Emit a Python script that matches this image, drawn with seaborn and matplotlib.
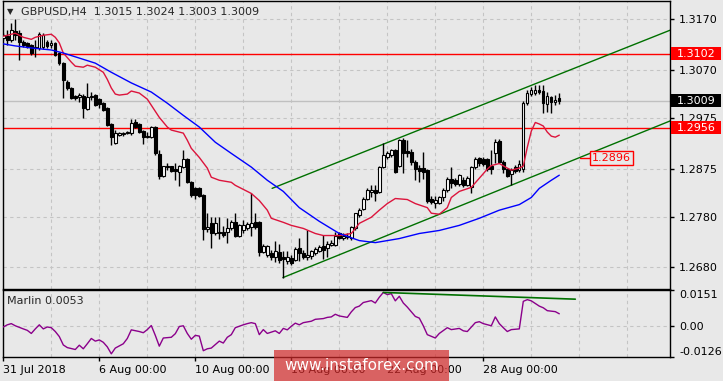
import matplotlib
matplotlib.use("Agg")
import matplotlib.pyplot as plt
import matplotlib.transforms as mtransforms
from matplotlib.patches import Rectangle
import seaborn as sns

# GBPUSD H4 candles
opens = [1.3132, 1.3136, 1.3129, 1.3146, 1.3142, 1.3125, 1.3123, 1.3119, 1.3113, 1.3113,
         1.3115, 1.3125, 1.3119, 1.3123, 1.3103, 1.3083, 1.3046, 1.3034, 1.3018, 1.3016,
         1.3018, 1.2992, 1.3016, 1.3020, 1.3012, 1.3004, 1.2994, 1.2963, 1.2925, 1.2941,
         1.2943, 1.2945, 1.2945, 1.2966, 1.2963, 1.2949, 1.2937, 1.2937, 1.2957, 1.2903,
         1.2860, 1.2878, 1.2880, 1.2874, 1.2868, 1.2878, 1.2893, 1.2848, 1.2836, 1.2836,
         1.2822, 1.2755, 1.2767, 1.2747, 1.2749, 1.2749, 1.2749, 1.2757, 1.2769, 1.2743,
         1.2753, 1.2757, 1.2759, 1.2769, 1.2769, 1.2710, 1.2704, 1.2708, 1.2700, 1.2710,
         1.2700, 1.2692, 1.2698, 1.2694, 1.2719, 1.2708, 1.2700, 1.2702, 1.2708, 1.2712,
         1.2723, 1.2719, 1.2725, 1.2725, 1.2747, 1.2739, 1.2741, 1.2739, 1.2757, 1.2783,
         1.2796, 1.2816, 1.2828, 1.2832, 1.2828, 1.2878, 1.2897, 1.2901, 1.2911, 1.2881,
         1.2931, 1.2909, 1.2907, 1.2889, 1.2876, 1.2876, 1.2872, 1.2816, 1.2808, 1.2808,
         1.2818, 1.2832, 1.2854, 1.2852, 1.2844, 1.2852, 1.2842, 1.2838, 1.2878, 1.2895,
         1.2893, 1.2893, 1.2881, 1.2905, 1.2929, 1.2889, 1.2874, 1.2864, 1.2878, 1.2872,
         1.2874, 1.3004, 1.3022, 1.3024, 1.3030, 1.3028, 1.3002, 1.3016, 1.3006, 1.3015]
highs = [1.3142, 1.3148, 1.3162, 1.3170, 1.3148, 1.3129, 1.3125, 1.3121, 1.3129, 1.3144,
         1.3142, 1.3129, 1.3129, 1.3125, 1.3105, 1.3085, 1.3049, 1.3036, 1.3020, 1.3024,
         1.3022, 1.3044, 1.3026, 1.3022, 1.3014, 1.3006, 1.2996, 1.2964, 1.2951, 1.2947,
         1.2947, 1.2949, 1.2972, 1.2972, 1.2964, 1.2951, 1.2947, 1.2959, 1.2959, 1.2911,
         1.2881, 1.2887, 1.2881, 1.2887, 1.2883, 1.2911, 1.2895, 1.2850, 1.2838, 1.2838,
         1.2824, 1.2787, 1.2779, 1.2779, 1.2779, 1.2761, 1.2777, 1.2773, 1.2788, 1.2765,
         1.2773, 1.2769, 1.2826, 1.2788, 1.2771, 1.2727, 1.2725, 1.2714, 1.2733, 1.2727,
         1.2712, 1.2712, 1.2704, 1.2721, 1.2739, 1.2714, 1.2753, 1.2714, 1.2721, 1.2725,
         1.2745, 1.2733, 1.2735, 1.2749, 1.2749, 1.2747, 1.2747, 1.2761, 1.2788, 1.2798,
         1.2818, 1.2836, 1.2842, 1.2842, 1.2880, 1.2925, 1.2909, 1.2913, 1.2913, 1.2933,
         1.2935, 1.2931, 1.2913, 1.2891, 1.2883, 1.2907, 1.2874, 1.2820, 1.2820, 1.2820,
         1.2836, 1.2858, 1.2878, 1.2856, 1.2864, 1.2858, 1.2860, 1.2880, 1.2897, 1.2897,
         1.2897, 1.2895, 1.2911, 1.2933, 1.2933, 1.2891, 1.2877, 1.2876, 1.2882, 1.2891,
         1.3008, 1.3030, 1.3036, 1.3040, 1.3040, 1.3040, 1.3026, 1.3018, 1.3020, 1.3024]
lows = [1.3129, 1.3119, 1.3125, 1.3129, 1.3089, 1.3115, 1.3113, 1.3099, 1.3095, 1.3109,
        1.3111, 1.3113, 1.3113, 1.3097, 1.3079, 1.3014, 1.3030, 1.3012, 1.3010, 1.3006,
        1.2974, 1.2990, 1.3010, 1.2998, 1.2994, 1.2988, 1.2959, 1.2921, 1.2923, 1.2939,
        1.2939, 1.2943, 1.2941, 1.2955, 1.2945, 1.2923, 1.2935, 1.2935, 1.2901, 1.2854,
        1.2858, 1.2872, 1.2868, 1.2852, 1.2840, 1.2876, 1.2846, 1.2818, 1.2816, 1.2818,
        1.2735, 1.2749, 1.2719, 1.2745, 1.2737, 1.2741, 1.2729, 1.2753, 1.2741, 1.2741,
        1.2747, 1.2753, 1.2743, 1.2755, 1.2702, 1.2708, 1.2700, 1.2694, 1.2690, 1.2688,
        1.2660, 1.2686, 1.2684, 1.2692, 1.2692, 1.2696, 1.2694, 1.2696, 1.2704, 1.2710,
        1.2696, 1.2700, 1.2723, 1.2723, 1.2737, 1.2735, 1.2737, 1.2735, 1.2753, 1.2779,
        1.2794, 1.2814, 1.2818, 1.2812, 1.2826, 1.2876, 1.2893, 1.2897, 1.2866, 1.2879,
        1.2866, 1.2897, 1.2883, 1.2852, 1.2848, 1.2854, 1.2808, 1.2806, 1.2798, 1.2806,
        1.2812, 1.2828, 1.2836, 1.2840, 1.2840, 1.2839, 1.2840, 1.2826, 1.2874, 1.2881,
        1.2881, 1.2870, 1.2864, 1.2886, 1.2887, 1.2866, 1.2858, 1.2842, 1.2866, 1.2868,
        1.2868, 1.3000, 1.3018, 1.3020, 1.3022, 1.2984, 1.2986, 1.2984, 1.3000, 1.3003]
closes = [1.3138, 1.3129, 1.3148, 1.3138, 1.3125, 1.3119, 1.3117, 1.3103, 1.3115, 1.3140,
          1.3138, 1.3117, 1.3123, 1.3099, 1.3083, 1.3049, 1.3034, 1.3014, 1.3014, 1.3020,
          1.2994, 1.3016, 1.3018, 1.3000, 1.3002, 1.2990, 1.2961, 1.2937, 1.2945, 1.2945,
          1.2945, 1.2947, 1.2964, 1.2957, 1.2947, 1.2937, 1.2939, 1.2957, 1.2905, 1.2860,
          1.2880, 1.2880, 1.2870, 1.2870, 1.2881, 1.2893, 1.2848, 1.2822, 1.2822, 1.2820,
          1.2755, 1.2759, 1.2747, 1.2767, 1.2747, 1.2745, 1.2757, 1.2769, 1.2743, 1.2763,
          1.2763, 1.2765, 1.2767, 1.2759, 1.2710, 1.2723, 1.2723, 1.2700, 1.2712, 1.2694,
          1.2696, 1.2700, 1.2688, 1.2717, 1.2708, 1.2700, 1.2704, 1.2712, 1.2717, 1.2721,
          1.2714, 1.2727, 1.2729, 1.2743, 1.2739, 1.2743, 1.2743, 1.2759, 1.2787, 1.2794,
          1.2816, 1.2832, 1.2832, 1.2826, 1.2878, 1.2901, 1.2905, 1.2911, 1.2868, 1.2931,
          1.2905, 1.2905, 1.2889, 1.2874, 1.2870, 1.2868, 1.2812, 1.2810, 1.2814, 1.2818,
          1.2832, 1.2854, 1.2846, 1.2844, 1.2862, 1.2842, 1.2856, 1.2878, 1.2893, 1.2887,
          1.2885, 1.2874, 1.2874, 1.2927, 1.2889, 1.2874, 1.2860, 1.2872, 1.2870, 1.2885,
          1.3004, 1.3024, 1.3030, 1.3030, 1.3026, 1.3004, 1.3018, 1.3006, 1.3010, 1.3009]

# moving averages (red = fast, blue = slow)
red_bar = [0, 2, 3, 5, 7, 8, 10, 12, 13, 14, 15, 17, 18, 20, 21, 23, 25, 26, 27, 28,
           29, 31, 32, 34, 36, 37, 39, 41, 42, 45, 46, 47, 49, 51, 52, 54, 57, 58, 61, 62,
           64, 66, 67, 70, 72, 75, 78, 80, 84, 87, 89, 92, 94, 96, 98, 101, 103, 106, 107, 109,
           111, 112, 114, 117, 119, 121, 122, 124, 126, 127, 129, 130, 131, 132, 133, 134, 135, 136, 137, 138, 139]
red_val = [1.3136, 1.3140, 1.3142, 1.3134, 1.3130, 1.3134, 1.3138, 1.3140, 1.3134, 1.3123,
           1.3103, 1.3085, 1.3077, 1.3075, 1.3079, 1.3075, 1.3065, 1.3051, 1.3034, 1.3022,
           1.3020, 1.3022, 1.3028, 1.3024, 1.3012, 1.3000, 1.2976, 1.2957, 1.2951, 1.2945,
           1.2931, 1.2915, 1.2897, 1.2876, 1.2858, 1.2852, 1.2848, 1.2842, 1.2830, 1.2826,
           1.2812, 1.2793, 1.2777, 1.2769, 1.2763, 1.2757, 1.2747, 1.2743, 1.2743, 1.2747,
           1.2767, 1.2779, 1.2793, 1.2806, 1.2816, 1.2814, 1.2806, 1.2798, 1.2787, 1.2785,
           1.2798, 1.2818, 1.2830, 1.2838, 1.2856, 1.2874, 1.2881, 1.2885, 1.2876, 1.2872,
           1.2876, 1.2880, 1.2917, 1.2949, 1.2966, 1.2963, 1.2959, 1.2947, 1.2939, 1.2937, 1.2941]
blue_bar = [0, 3, 7, 12, 15, 19, 23, 27, 32, 37, 41, 45, 49, 53, 57, 62, 66, 70, 74, 79,
            84, 89, 93, 99, 104, 109, 114, 119, 124, 129, 132, 134, 137, 139]
blue_val = [1.3121, 1.3117, 1.3113, 1.3109, 1.3103, 1.3093, 1.3083, 1.3065, 1.3044, 1.3026,
            1.3004, 1.2980, 1.2957, 1.2927, 1.2905, 1.2878, 1.2852, 1.2830, 1.2798, 1.2771,
            1.2747, 1.2733, 1.2729, 1.2737, 1.2747, 1.2753, 1.2763, 1.2777, 1.2793, 1.2804,
            1.2818, 1.2836, 1.2852, 1.2862]

# channel (bar, price at both ends)
upper_bar = [67.2, 166.7]
upper_val = [1.2836, 1.3148]
lower_bar = [69.9, 166.7]
lower_val = [1.2660, 1.2969]

level_hi = 1.3102
level_lo = 1.2956
last_price = 1.3009
channel_tag = 1.2896

price_ticks = [1.3170, 1.3070, 1.2975, 1.2875, 1.2780, 1.2680]
date_bars = [0, 24, 48, 72, 96, 120]
date_labels = ['31 Jul 2018', '6 Aug 00:00', '10 Aug 00:00', '16 Aug 00:00',
               '22 Aug 00:00', '28 Aug 00:00']

# Marlin oscillator
marlin_bar = [0, 1, 2, 3, 5, 6, 7, 8, 9, 10, 11, 12, 13, 14, 15, 16, 18, 19, 20, 21,
              22, 23, 24, 25, 26, 27, 28, 30, 31, 32, 34, 35, 36, 37, 38, 39, 40, 42, 43, 44,
              45, 46, 47, 48, 49, 50, 51, 52, 54, 55, 56, 57, 58, 60, 61, 62, 63, 64, 65, 66,
              68, 69, 70, 71, 72, 73, 74, 75, 77, 78, 80, 81, 82, 83, 84, 86, 87, 88, 89, 90,
              92, 93, 94, 95, 96, 97, 98, 99, 100, 101, 103, 104, 105, 106, 108, 109, 111, 112, 114, 115,
              116, 118, 119, 120, 122, 123, 124, 125, 126, 127, 129, 130, 131, 132, 134, 135, 136, 138, 139]
marlin_val = [-0.0002, 0.0007, 0.0012, 0.0003, -0.0010, -0.0016, -0.0029, -0.0010, 0.0007, -0.0010,
              -0.0002, -0.0005, -0.0021, -0.0042, -0.0077, -0.0088, -0.0096, -0.0078, -0.0093, -0.0072,
              -0.0050, -0.0061, -0.0056, -0.0066, -0.0085, -0.0114, -0.0090, -0.0072, -0.0050, -0.0014,
              -0.0021, -0.0026, -0.0013, 0.0004, -0.0037, -0.0082, -0.0048, -0.0045, -0.0030, 0.0000,
              0.0003, -0.0029, -0.0053, -0.0037, -0.0040, -0.0101, -0.0093, -0.0090, -0.0061, -0.0069,
              -0.0045, -0.0034, -0.0005, 0.0007, 0.0012, 0.0016, 0.0012, -0.0034, -0.0013, -0.0029,
              -0.0018, -0.0029, -0.0008, -0.0014, 0.0001, 0.0014, 0.0007, 0.0016, 0.0022, 0.0030,
              0.0033, 0.0038, 0.0040, 0.0051, 0.0044, 0.0038, 0.0061, 0.0079, 0.0085, 0.0100,
              0.0108, 0.0098, 0.0122, 0.0142, 0.0133, 0.0137, 0.0107, 0.0126, 0.0098, 0.0081,
              0.0042, 0.0035, 0.0003, -0.0034, -0.0048, -0.0029, -0.0005, -0.0013, -0.0008, -0.0018,
              -0.0021, 0.0016, 0.0020, 0.0012, 0.0003, 0.0040, 0.0012, -0.0005, -0.0021, -0.0013,
              -0.0010, 0.0105, 0.0112, 0.0107, 0.0085, 0.0078, 0.0066, 0.0062, 0.0053]
marlin_div_bar = [95, 143]
marlin_div_val = [0.0142, 0.0114]
marlin_ticks = [-0.0126, 0.0, 0.0151]
marlin_labels = ['-0.0126', '0.00', '0.0151']

BG = '#e8e8e8'
GRID = '#c4c4c4'
W, H = 723, 381

sns.set_style("white")
plt.rcParams['font.family'] = ['DejaVu Sans']
plt.rcParams['font.size'] = 8


def fx(x):
    return x / W


def fy(y):
    return 1 - y / H


fig = plt.figure(figsize=(W / 100, H / 100), dpi=100)
fig.patch.set_facecolor(BG)

ax = fig.add_axes([fx(2.5), fy(288.5), fx(669.5) - fx(2.5), fy(1) - fy(288.5)])
axm = fig.add_axes([fx(2.5), fy(356.7), fx(669.5) - fx(2.5), fy(290.3) - fy(356.7)])

xlim = (-0.2, 166.55)
grid_bars = list(range(12, 166, 12))

# ---- price panel
ax.set_facecolor(BG)
for b in grid_bars:
    ax.axvline(b, color=GRID, lw=0.8, ls=(0, (3, 3)), zorder=0)
for p in price_ticks:
    ax.axhline(p, color=GRID, lw=0.8, ls=(0, (3, 3)), zorder=0)

ax.axhline(last_price, color='#c0c0c0', lw=1, zorder=1)
ax.axhline(level_hi, color='#ff0000', lw=1, zorder=1)
ax.axhline(level_lo, color='#ff0000', lw=1, zorder=1)

bars = list(range(len(opens)))
ax.vlines(bars, lows, highs, color='black', lw=1, zorder=3)
body_col = ['white' if c >= o else 'black' for o, c in zip(opens, closes)]
ax.bar(bars, [c - o for o, c in zip(opens, closes)], bottom=opens, width=0.6,
       color=body_col, edgecolor='black', linewidth=0.8, zorder=4)

sns.lineplot(x=red_bar, y=red_val, ax=ax, color='#dc143c', lw=1, legend=False, zorder=5)
sns.lineplot(x=blue_bar, y=blue_val, ax=ax, color='#0000ff', lw=1, legend=False, zorder=5)
sns.lineplot(x=upper_bar, y=upper_val, ax=ax, color='#007000', lw=1, legend=False, zorder=2)
sns.lineplot(x=lower_bar, y=lower_val, ax=ax, color='#007000', lw=1, legend=False, zorder=2)

# trend line price tag
ax.plot([144.2, 146.9], [channel_tag, channel_tag], color='#ff0000', lw=1, zorder=6)
ax.text(147.2, channel_tag, f'{channel_tag:.4f}', color='#ff0000', fontsize=8,
        ha='left', va='center', zorder=7,
        bbox=dict(boxstyle='square,pad=0.15', fc=BG, ec='#ff0000', lw=1))

ax.set_xlim(*xlim)
ax.set_ylim(1.26385, 1.32056)
ax.set_xticks([])
ax.yaxis.tick_right()
ax.set_yticks(price_ticks)
ax.set_yticklabels([f'{p:.4f}' for p in price_ticks])
ax.tick_params(axis='y', direction='out', length=3, width=1, pad=4, labelsize=8,
               colors='black', right=True)
ax.set_xlabel('')
ax.set_ylabel('')
for s in ax.spines.values():
    s.set_color('black')
    s.set_linewidth(1)

# highlighted price boxes on the right scale
tr = mtransforms.blended_transform_factory(ax.transAxes, ax.transData)
box_h = 13 * (1.32056 - 1.26385) / 287.5
for val, fc in [(level_hi, '#ff0000'), (last_price, 'black'), (level_lo, '#ff0000')]:
    ax.add_patch(Rectangle((1.0023, val - box_h / 2), 50 / 667, box_h, transform=tr,
                           facecolor=fc, edgecolor='none', clip_on=False, zorder=8))
    ax.text(1 + 7.5 / 667, val, f'{val:.4f}', transform=tr, color='white', fontsize=8,
            ha='left', va='center', clip_on=False, zorder=9)

# ---- Marlin panel
axm.set_facecolor(BG)
for b in grid_bars:
    axm.axvline(b, color=GRID, lw=0.8, ls=(0, (3, 3)), zorder=0)
axm.axhline(0, color=GRID, lw=0.8, ls=(0, (3, 3)), zorder=0)
sns.lineplot(x=marlin_bar, y=marlin_val, ax=axm, color='#8b008b', lw=1, legend=False, zorder=3)
sns.lineplot(x=marlin_div_bar, y=marlin_div_val, ax=axm, color='#007000', lw=1.2,
             legend=False, zorder=3)
axm.set_xlim(*xlim)
axm.set_ylim(-0.0126, 0.0151)
axm.yaxis.tick_right()
axm.set_yticks(marlin_ticks)
axm.set_yticklabels(marlin_labels)
labs = axm.get_yticklabels()
labs[0].set_va('bottom')
labs[2].set_va('top')
axm.tick_params(axis='y', direction='out', length=3, width=1, pad=4, labelsize=8,
                colors='black', right=True)
axm.set_xticks(date_bars)
axm.set_xticklabels(date_labels, ha='left')
axm.tick_params(axis='x', direction='out', length=3, width=1, pad=3, labelsize=8,
                colors='black', bottom=True)
axm.set_xlabel('')
axm.set_ylabel('')
for s in axm.spines.values():
    s.set_color('black')
    s.set_linewidth(1)

# header texts
fig.text(fx(7), fy(11.5), '\u25bc', fontsize=6, ha='left', va='center')
fig.text(fx(21), fy(12), 'GBPUSD,H4  1.3015 1.3024 1.3003 1.3009', fontsize=8,
         ha='left', va='center')
fig.text(fx(7), fy(301), 'Marlin 0.0053', fontsize=8, ha='left', va='center')

# watermark
fig.add_artist(Rectangle((fx(274), fy(381)), fx(449) - fx(274), 31 / H,
                         transform=fig.transFigure, facecolor='#d42a2a', alpha=0.7,
                         edgecolor='none', zorder=5))
fig.text(fx(362), fy(366), 'www.instaforex.com', color='white', fontsize=11,
         ha='center', va='center', zorder=6)

fig.savefig('out.png', dpi=100, facecolor=BG)
